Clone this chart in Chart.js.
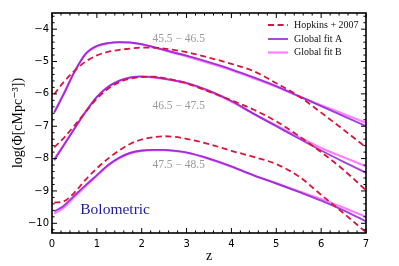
<!DOCTYPE html>
<html><head><meta charset="utf-8">
<script src="https://cdn.jsdelivr.net/npm/chart.js@4.4.1/dist/chart.umd.min.js"></script>
<style>html,body{margin:0;padding:0;background:#fff;}#wrap{width:399px;height:266px;}</style>
</head><body><div id="wrap"><canvas id="c" width="399" height="266"></canvas></div>
<script>
// ---- data ----
const zGrid = [0.05,0.25,0.5,0.75,1.0,1.25,1.5,1.75,2.0,2.25,2.5,2.75,3.0,3.5,4.0,4.5,5.0,5.5,6.0,6.5,7.0];

const hopkinsLow  = [-6.01,-5.65,-5.29,-5.00,-4.81,-4.70,-4.64,-4.60,-4.57,-4.57,-4.60,-4.65,-4.71,-4.88,-5.07,-5.30,-5.67,-6.07,-6.58,-7.11,-7.65];
const fitALow     = [-6.58,-6.04,-5.32,-4.76,-4.52,-4.43,-4.40,-4.41,-4.46,-4.55,-4.64,-4.73,-4.82,-5.02,-5.24,-5.49,-5.76,-6.07,-6.38,-6.69,-7.00];
const fitBLow     = [-6.56,-6.03,-5.32,-4.77,-4.53,-4.44,-4.41,-4.42,-4.47,-4.56,-4.65,-4.75,-4.84,-5.05,-5.27,-5.52,-5.78,-6.07,-6.35,-6.62,-6.89];

const hopkinsMid  = [-7.65,-7.38,-6.98,-6.56,-6.15,-5.84,-5.64,-5.53,-5.48,-5.47,-5.51,-5.58,-5.67,-5.93,-6.20,-6.49,-6.85,-7.30,-7.80,-8.35,-8.98];
const fitAMid     = [-8.05,-7.62,-7.08,-6.55,-6.09,-5.78,-5.59,-5.49,-5.46,-5.48,-5.53,-5.59,-5.66,-5.90,-6.22,-6.62,-7.00,-7.38,-7.75,-8.10,-8.44];
const fitBMid     = [-8.02,-7.60,-7.07,-6.55,-6.10,-5.79,-5.60,-5.50,-5.47,-5.49,-5.54,-5.60,-5.68,-5.92,-6.24,-6.62,-6.98,-7.33,-7.67,-7.96,-8.24];

const hopkinsHigh = [-9.36,-9.33,-9.05,-8.65,-8.30,-8.00,-7.75,-7.54,-7.41,-7.34,-7.31,-7.33,-7.39,-7.55,-7.76,-7.95,-8.17,-8.55,-9.12,-9.69,-10.28];
const fitAHigh    = [-9.63,-9.47,-9.14,-8.82,-8.51,-8.20,-7.97,-7.82,-7.75,-7.73,-7.73,-7.76,-7.81,-8.00,-8.24,-8.52,-8.77,-9.03,-9.30,-9.60,-9.94];
const fitBHigh    = [-9.70,-9.53,-9.19,-8.85,-8.53,-8.22,-7.99,-7.83,-7.76,-7.74,-7.74,-7.77,-7.82,-8.01,-8.25,-8.52,-8.76,-9.01,-9.25,-9.52,-9.80];

const xTickValues = [0,1,2,3,4,5,6,7];
const yTickValues = [-10,-9,-8,-7,-6,-5,-4];
const seriesNames = ['Hopkins + 2007','Global fit A','Global fit B'];
const groupNames  = ['45.5 − 46.5','46.5 − 47.5','47.5 − 48.5'];
const panelName   = 'Bolometric';

// ---- styles ----
const COL_H = '#dc143c';
const COL_A = 'rgba(140,25,212,0.82)';
const COL_B = '#ff80ff';
const SERIF = '"Liberation Serif", "DejaVu Serif", serif';
const SANS  = '"DejaVu Sans", sans-serif';

const toPts = arr => arr.map((v,i) => ({x: zGrid[i], y: v}));
function ds(label, arr, kind) {
  const base = {label, data: toPts(arr), pointRadius: 0, fill: false, cubicInterpolationMode: 'monotone'};
  if (kind === 'H') return Object.assign(base, {borderColor: COL_H, borderWidth: 1.8, borderDash: [6, 3.6]});
  if (kind === 'A') return Object.assign(base, {borderColor: COL_A, borderWidth: 1.9});
  return Object.assign(base, {borderColor: COL_B, borderWidth: 2.2});
}
const datasets = [
  ds(seriesNames[0], hopkinsLow, 'H'), ds(seriesNames[0], hopkinsMid, 'H'), ds(seriesNames[0], hopkinsHigh, 'H'),
  ds(seriesNames[1], fitALow, 'A'), ds(seriesNames[1], fitAMid, 'A'), ds(seriesNames[1], fitAHigh, 'A'),
  ds(seriesNames[2], fitBLow, 'B'), ds(seriesNames[2], fitBMid, 'B'), ds(seriesNames[2], fitBHigh, 'B')
];

const decor = {
  id: 'decor',
  afterDraw(chart) {
    const {ctx, chartArea: a, scales: {x, y}} = chart;
    ctx.save();
    // inward ticks on all four sides
    ctx.strokeStyle = '#000';
    ctx.lineWidth = 1;
    const tick = (x1,y1,x2,y2) => { ctx.beginPath(); ctx.moveTo(x1,y1); ctx.lineTo(x2,y2); ctx.stroke(); };
    for (let i = 0; i <= 35; i++) {
      const v = i * 0.2;
      const major = i % 5 === 0;
      const L = major ? 5 : 2.6;
      const px = x.getPixelForValue(v);
      tick(px, a.bottom, px, a.bottom - L);
      tick(px, a.top, px, a.top + L);
    }
    for (let i = -51; i <= -18; i++) {
      const v = i * 0.2;
      if (v < y.min - 1e-9 || v > y.max + 1e-9) continue;
      const major = i % 5 === 0;
      const L = major ? 5 : 2.6;
      const py = y.getPixelForValue(v);
      tick(a.left, py, a.left + L, py);
      tick(a.right, py, a.right - L, py);
    }
    // frame
    ctx.lineWidth = 1.6;
    ctx.strokeRect(a.left, a.top, a.right - a.left, a.bottom - a.top);

    // group labels
    ctx.fillStyle = '#9a9a9a';
    ctx.font = '11.5px ' + SERIF;
    ctx.textBaseline = 'middle';
    ctx.textAlign = 'left';
    const gpos = [[2.24,-4.31],[2.24,-6.36],[2.24,-8.19]];
    groupNames.forEach((t,i) => ctx.fillText(t, x.getPixelForValue(gpos[i][0]), y.getPixelForValue(gpos[i][1])));
    // panel name
    ctx.fillStyle = '#1c1ca0';
    ctx.font = '15.5px ' + SERIF;
    ctx.fillText(panelName, x.getPixelForValue(0.63), y.getPixelForValue(-9.58));

    // legend
    const rows = [25, 39, 52.5];
    const styles = [[COL_H, 1.8, [6,3.6]], [COL_A, 1.9, []], [COL_B, 2.2, []]];
    ctx.font = '10px ' + SERIF;
    ctx.fillStyle = '#111';
    seriesNames.forEach((t,i) => {
      ctx.strokeStyle = styles[i][0];
      ctx.lineWidth = styles[i][1];
      ctx.setLineDash(styles[i][2]);
      ctx.beginPath(); ctx.moveTo(268, rows[i]); ctx.lineTo(288, rows[i]); ctx.stroke();
      ctx.setLineDash([]);
      ctx.fillText(t, 294, rows[i]);
    });
    ctx.restore();
  }
};

new Chart(document.getElementById('c'), {
  type: 'line',
  data: {datasets},
  options: {
    responsive: false,
    animation: false,
    devicePixelRatio: 1,
    layout: {padding: {top: 13, right: 33, bottom: 0, left: 0}},
    plugins: {legend: {display: false}, tooltip: {enabled: false}},
    scales: {
      x: {
        type: 'linear', min: 0, max: 7,
        afterBuildTicks: s => { s.ticks = xTickValues.map(v => ({value: v})); },
        afterFit: s => { s.height = 33; },
        grid: {display: false, drawTicks: false},
        border: {display: false},
        ticks: {color: '#000', font: {family: SANS, size: 10}, padding: 5, maxRotation: 0,
                callback: v => String(v)},
        title: {display: true, text: 'z', color: '#000', font: {family: SERIF, size: 14}, padding: {top: 0, bottom: 1.5}}
      },
      y: {
        type: 'linear', min: -10.3, max: -3.5,
        afterBuildTicks: s => { s.ticks = yTickValues.map(v => ({value: v})); },
        afterFit: s => { s.width = 52; },
        grid: {display: false, drawTicks: false},
        border: {display: false},
        ticks: {color: '#000', font: {family: SANS, size: 10}, padding: 3,
                callback: v => String(v).replace('-', '−')},
        title: {display: true, text: 'log(Φ[cMpc⁻³])', color: '#000', font: {family: SERIF, size: 14}, padding: {top: 10, bottom: 0}}
      }
    }
  },
  plugins: [decor]
});
</script></body></html>
